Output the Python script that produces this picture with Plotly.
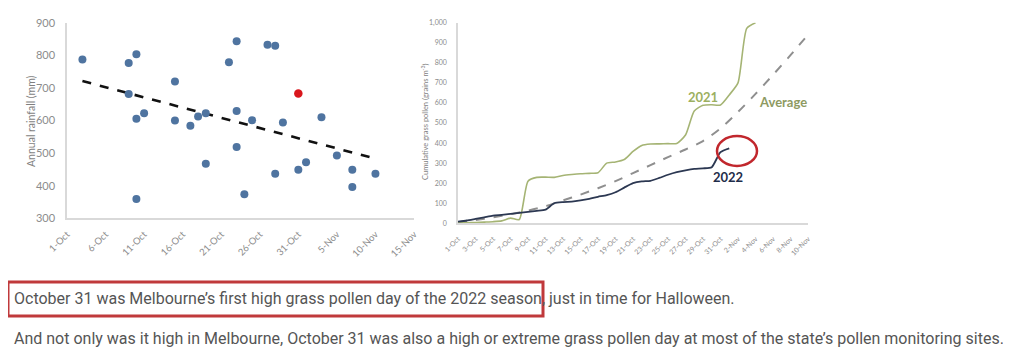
import plotly.graph_objects as go

W, H = 1011, 362
PAGE_OFFSET = 8  # browser default body margin

# ---------------- Left chart: rainfall vs first high pollen day ----------------
rain_dates = ["2022-10-03", "2022-10-09", "2022-10-10", "2022-10-09", "2022-10-10", "2022-10-11",
              "2022-10-10", "2022-10-15", "2022-10-15", "2022-10-17", "2022-10-18", "2022-10-19",
              "2022-10-19", "2022-10-22", "2022-10-23", "2022-10-23", "2022-10-23", "2022-10-24",
              "2022-10-25", "2022-10-27", "2022-10-28", "2022-10-28", "2022-10-29", "2022-10-31",
              "2022-11-01", "2022-11-03", "2022-11-05", "2022-11-07", "2022-11-07", "2022-11-10"]
rain_values = [787, 776, 803, 681, 605, 622,
               359, 720, 600, 584, 612, 622,
               467, 779, 843, 629, 519, 374,
               601, 832, 829, 437, 594, 449,
               472, 610, 493, 449, 396, 437]
highlight_date = ["2022-10-31"]
highlight_value = [683]
trend_dates = ["2022-10-03", "2022-11-10"]
trend_values = [721, 483]
left_tick_dates = ["2022-10-01", "2022-10-06", "2022-10-11", "2022-10-16", "2022-10-21", "2022-10-26",
                   "2022-10-31", "2022-11-05", "2022-11-10", "2022-11-15"]
left_tick_labels = ["1-Oct", "6-Oct", "11-Oct", "16-Oct", "21-Oct", "26-Oct",
                    "31-Oct", "5-Nov", "10-Nov", "15-Nov"]

# ---------------- Right chart: cumulative grass pollen ----------------
dates_2022 = ["2022-10-%02d" % d for d in range(1, 32)] + ["2022-11-01"]
pollen_2022 = [8, 14, 22, 30, 38, 42, 47, 52, 57, 62, 68, 100, 106, 108, 114, 122,
               132, 141, 155, 178, 200, 209, 212, 226, 242, 255, 264, 271, 274, 280, 355, 374]
dates_2021 = ["2022-10-%02d" % d for d in range(1, 32)] + ["2022-11-01", "2022-11-02", "2022-11-03", "2022-11-04"]
pollen_2021 = [3, 3, 4, 6, 8, 12, 26, 19, 210, 229, 230, 229, 238, 243, 247, 249,
               252, 300, 306, 318, 358, 388, 395, 396, 397, 398, 440, 560, 588, 591, 590,
               640, 700, 972, 1000]
dates_avg = ["2022-10-01", "2022-10-03", "2022-10-05", "2022-10-07", "2022-10-09", "2022-10-11",
             "2022-10-13", "2022-10-15", "2022-10-17", "2022-10-19", "2022-10-21", "2022-10-23",
             "2022-10-25", "2022-10-27", "2022-10-29", "2022-10-31", "2022-11-02", "2022-11-04",
             "2022-11-06", "2022-11-08", "2022-11-10"]
pollen_avg = [5, 16, 30, 45, 63, 85, 114, 143, 175, 210, 250, 290, 330, 368, 410, 473,
              555, 645, 740, 838, 940]
right_tick_dates = dates_avg
right_tick_labels = ["1-Oct", "3-Oct", "5-Oct", "7-Oct", "9-Oct", "11-Oct", "13-Oct", "15-Oct",
                     "17-Oct", "19-Oct", "21-Oct", "23-Oct", "25-Oct", "27-Oct", "29-Oct", "31-Oct",
                     "2-Nov", "4-Nov", "6-Nov", "8-Nov", "10-Nov"]

line1 = "October 31 was Melbourne\u2019s first high grass pollen day of the 2022 season, just in time for Halloween."
line2 = ("And not only was it high in Melbourne, October 31 was also a high or extreme grass pollen day "
         "at most of the state\u2019s pollen monitoring sites.")


def px(x):
    return (x - PAGE_OFFSET) / W


def py(y):
    return 1 - (y - PAGE_OFFSET) / H


CHART_FONT = "Lato, 'Open Sans', sans-serif"
AXIS_GREY = "#d9d9d9"
TICK_GREY = "#8c8c8c"

fig = go.Figure()

fig.add_trace(go.Scatter(x=trend_dates, y=trend_values, mode="lines",
                         line=dict(color="#111111", width=2.6, dash="dash"),
                         xaxis="x", yaxis="y", hoverinfo="skip"))
fig.add_trace(go.Scatter(x=rain_dates, y=rain_values, mode="markers",
                         marker=dict(color="#4f74a0", size=8),
                         xaxis="x", yaxis="y"))
fig.add_trace(go.Scatter(x=highlight_date, y=highlight_value, mode="markers",
                         marker=dict(color="#d9161c", size=8.5),
                         xaxis="x", yaxis="y"))

fig.add_trace(go.Scatter(x=dates_avg, y=pollen_avg, mode="lines",
                         line=dict(color="#8f8f8f", width=2, dash="dash", shape="spline", smoothing=0.8),
                         xaxis="x2", yaxis="y2"))
fig.add_trace(go.Scatter(x=dates_2021, y=pollen_2021, mode="lines",
                         line=dict(color="#a5b474", width=1.6, shape="spline", smoothing=0.6),
                         xaxis="x2", yaxis="y2"))
fig.add_trace(go.Scatter(x=dates_2022, y=pollen_2022, mode="lines",
                         line=dict(color="#2c3852", width=1.8, shape="spline", smoothing=0.6),
                         xaxis="x2", yaxis="y2"))

common_x = dict(type="date", showgrid=False, zeroline=False, showline=True, automargin=False,
                linecolor=AXIS_GREY, linewidth=1.5, tickangle=-45,
                ticks="outside", tickcolor="rgba(0,0,0,0)")
common_y = dict(showgrid=False, zeroline=False, showline=True, linecolor=AXIS_GREY, automargin=False,
                linewidth=1.5, ticks="outside", tickcolor="rgba(0,0,0,0)", ticklen=8)

fig.update_layout(
    width=W, height=H, margin=dict(l=0, r=0, t=0, b=0, autoexpand=False),
    paper_bgcolor="white", plot_bgcolor="white", showlegend=False,
    font=dict(family=CHART_FONT, color=TICK_GREY),
    xaxis=dict(common_x, domain=[px(67), px(414)], anchor="y",
               range=["2022-10-01", "2022-11-15"],
               tickvals=left_tick_dates, ticktext=left_tick_labels, ticklen=5,
               tickfont=dict(size=9.5, color=TICK_GREY)),
    yaxis=dict(common_y, domain=[py(218.3), py(22.7)], anchor="x",
               range=[300, 900], dtick=100,
               tickfont=dict(size=11, color=TICK_GREY)),
    xaxis2=dict(common_x, domain=[px(458), px(808)], anchor="y2",
                range=["2022-10-01", "2022-11-10"],
                tickvals=right_tick_dates, ticktext=right_tick_labels, ticklen=7,
                tickfont=dict(size=7, color=TICK_GREY)),
    yaxis2=dict(common_y, domain=[py(223.3), py(22.7)], anchor="x2",
                range=[0, 1000], dtick=100, tickformat=",",
                tickfont=dict(size=7, color=TICK_GREY)),
)

annotations = [
    dict(text="Annual rainfall (mm)", x=px(31), y=py(121), textangle=-90,
         font=dict(size=10.5, color="#7f7f7f", family=CHART_FONT)),
    dict(text="Cumulative grass pollen (grains m<sup>-3</sup>)", x=px(425), y=py(122), textangle=-90,
         font=dict(size=7.5, color="#7f7f7f", family=CHART_FONT)),
    dict(text="<b>2021</b>", x=px(703), y=py(97),
         font=dict(size=13, color="#9cb060", family=CHART_FONT)),
    dict(text="<b>Average</b>", x=px(783), y=py(102),
         font=dict(size=13, color="#8e9a62", family=CHART_FONT)),
    dict(text="<b>2022</b>", x=px(728), y=py(177),
         font=dict(size=13, color="#1f2d4a", family=CHART_FONT)),
    dict(text=line1, x=px(12), y=py(298), xanchor="left",
         font=dict(size=16, color="#555555", family="Roboto")),
    dict(text=line2, x=px(12), y=py(338), xanchor="left",
         font=dict(size=16, color="#555555", family="Roboto")),
]
for a in annotations:
    a.setdefault("xanchor", "center")
    a.update(xref="paper", yref="paper", yanchor="middle", showarrow=False)
fig.update_layout(annotations=annotations)

fig.add_shape(type="circle", xref="paper", yref="paper",
              x0=px(717), x1=px(757), y0=py(166), y1=py(136),
              line=dict(color="#c1272d", width=2.5))
fig.add_shape(type="rect", xref="paper", yref="paper",
              x0=px(8), x1=px(543), y0=py(316), y1=py(282),
              line=dict(color="#c0393b", width=3))

fig.write_html("out.html")
